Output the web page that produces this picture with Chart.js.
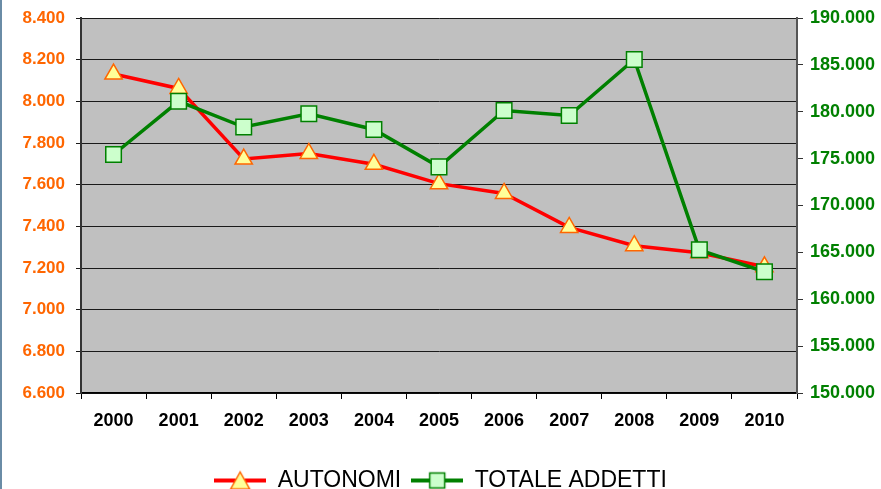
<!DOCTYPE html>
<html>
<head>
<meta charset="utf-8">
<script src="https://cdn.jsdelivr.net/npm/chart.js@4/dist/chart.umd.min.js"></script>
<style>
    body { margin: 0; background: #fff; }
    #wrap { position: relative; width: 881px; height: 489px; }
    #edge { position: absolute; left: 0; top: 0; width: 2px; height: 489px; background: #6a8ca6; }
</style>
</head>
<body>
<div id="wrap">
    <canvas id="chart"></canvas>
    <div id="edge"></div>
</div>
<script>
// Data
const years = ['2000', '2001', '2002', '2003', '2004', '2005', '2006', '2007', '2008', '2009', '2010'];
const autonomi = [8131, 8062, 7723, 7750, 7698, 7605, 7558, 7395, 7307, 7273, 7206];
const totaleAddetti = [175440, 181110, 178370, 179780, 178110, 174120, 180130, 179600, 185570, 165270, 162930];
const leftTicks = [6600, 6800, 7000, 7200, 7400, 7600, 7800, 8000, 8200, 8400];
const rightTicks = [150000, 155000, 160000, 165000, 170000, 175000, 180000, 185000, 190000];

// Italian style thousands separator
function formatIt(v) {
    return String(v).replace(/\B(?=(\d{3})+(?!\d))/g, '.');
}

// Grey plot background
const plotBackground = {
    id: 'plotBackground',
    beforeDraw(chart) {
        const { ctx, chartArea } = chart;
        ctx.save();
        ctx.fillStyle = '#C0C0C0';
        ctx.fillRect(chartArea.left, chartArea.top, chartArea.right - chartArea.left, chartArea.bottom - chartArea.top);
        ctx.restore();
    }
};

// Legend icons: line with the marker in the middle
function legendIcon(lineColor, drawMarker) {
    const c = document.createElement('canvas');
    c.width = 52;
    c.height = 22;
    const g = c.getContext('2d');
    g.strokeStyle = lineColor;
    g.lineWidth = 4;
    g.beginPath();
    g.moveTo(0, 11);
    g.lineTo(52, 11);
    g.stroke();
    drawMarker(g);
    return c;
}

const legendIcons = [
    legendIcon('#FF0000', function(g) {
        g.beginPath();
        g.moveTo(26, 2.5);
        g.lineTo(35.5, 19.5);
        g.lineTo(16.5, 19.5);
        g.closePath();
        g.fillStyle = '#FFFF99';
        g.fill();
        g.strokeStyle = '#FF6600';
        g.lineWidth = 1.5;
        g.stroke();
    }),
    legendIcon('#008000', function(g) {
        g.fillStyle = '#CCFFCC';
        g.fillRect(18.5, 3.5, 15, 15);
        g.strokeStyle = '#008000';
        g.lineWidth = 1.5;
        g.strokeRect(18.5, 3.5, 15, 15);
    })
];

// y axes: fixed width, no extra top/bottom padding for the labels
function fitYAxis(width) {
    return function(scale) {
        scale.width = width;
        scale.paddingTop = 0;
        scale.paddingBottom = 0;
    };
}

const ctx = document.getElementById('chart').getContext('2d');

new Chart(ctx, {
    type: 'line',
    data: {
        labels: years,
        datasets: [{
            label: 'AUTONOMI',
            data: autonomi,
            yAxisID: 'y',
            order: 2,
            borderColor: '#FF0000',
            borderWidth: 3.5,
            pointStyle: 'triangle',
            pointRadius: 10,
            pointHoverRadius: 10,
            pointBackgroundColor: '#FFFF99',
            pointBorderColor: '#FF6600',
            pointBorderWidth: 1.5,
            tension: 0
        }, {
            label: 'TOTALE ADDETTI',
            data: totaleAddetti,
            yAxisID: 'y2',
            order: 1,
            borderColor: '#008000',
            borderWidth: 3.5,
            pointStyle: 'rect',
            pointRadius: 11,
            pointHoverRadius: 11,
            pointBackgroundColor: '#CCFFCC',
            pointBorderColor: '#008000',
            pointBorderWidth: 1.5,
            tension: 0
        }]
    },
    options: {
        responsive: true,
        maintainAspectRatio: false,
        animation: false,
        layout: {
            padding: { top: 18, left: 0, right: 0, bottom: -13 }
        },
        scales: {
            x: {
                offset: true,
                grid: {
                    offset: true,
                    drawOnChartArea: false,
                    tickLength: 6,
                    color: '#000'
                },
                border: { color: '#000', width: 1.5 },
                ticks: {
                    color: '#000',
                    padding: 11,
                    maxRotation: 0,
                    font: { family: 'Liberation Sans', size: 18, weight: 'bold' }
                },
                afterFit: function(scale) {
                    scale.height = 66;
                    scale.paddingLeft = 0;
                    scale.paddingRight = 0;
                }
            },
            y: {
                position: 'left',
                min: 6600,
                max: 8400,
                afterBuildTicks: function(scale) {
                    scale.ticks = leftTicks.map(v => ({ value: v }));
                },
                grid: {
                    color: '#1a1a1a',
                    lineWidth: 1,
                    tickLength: 5
                },
                border: { color: '#333', width: 2 },
                ticks: {
                    color: '#FF6600',
                    padding: 11,
                    font: { family: 'Liberation Sans', size: 17, weight: 'bold' },
                    callback: v => formatIt(v)
                },
                afterFit: fitYAxis(81)
            },
            y2: {
                position: 'right',
                min: 150000,
                max: 190000,
                afterBuildTicks: function(scale) {
                    scale.ticks = rightTicks.map(v => ({ value: v }));
                },
                grid: {
                    drawOnChartArea: false,
                    color: '#333',
                    tickLength: 6
                },
                border: { color: '#555', width: 2 },
                ticks: {
                    color: '#008000',
                    padding: 7,
                    font: { family: 'Liberation Sans', size: 18, weight: 'bold' },
                    callback: v => formatIt(v)
                },
                afterFit: fitYAxis(84)
            }
        },
        plugins: {
            legend: {
                position: 'bottom',
                labels: {
                    usePointStyle: true,
                    pointStyleWidth: 52,
                    padding: 10,
                    color: '#000',
                    font: { family: 'Liberation Sans', size: 23 },
                    generateLabels: function(chart) {
                        const items = Chart.defaults.plugins.legend.labels.generateLabels(chart);
                        items.sort((a, b) => a.datasetIndex - b.datasetIndex);
                        return items.map(item => Object.assign(item, { pointStyle: legendIcons[item.datasetIndex] }));
                    }
                }
            },
            tooltip: { enabled: false }
        }
    },
    plugins: [plotBackground]
});
</script>
</body>
</html>
